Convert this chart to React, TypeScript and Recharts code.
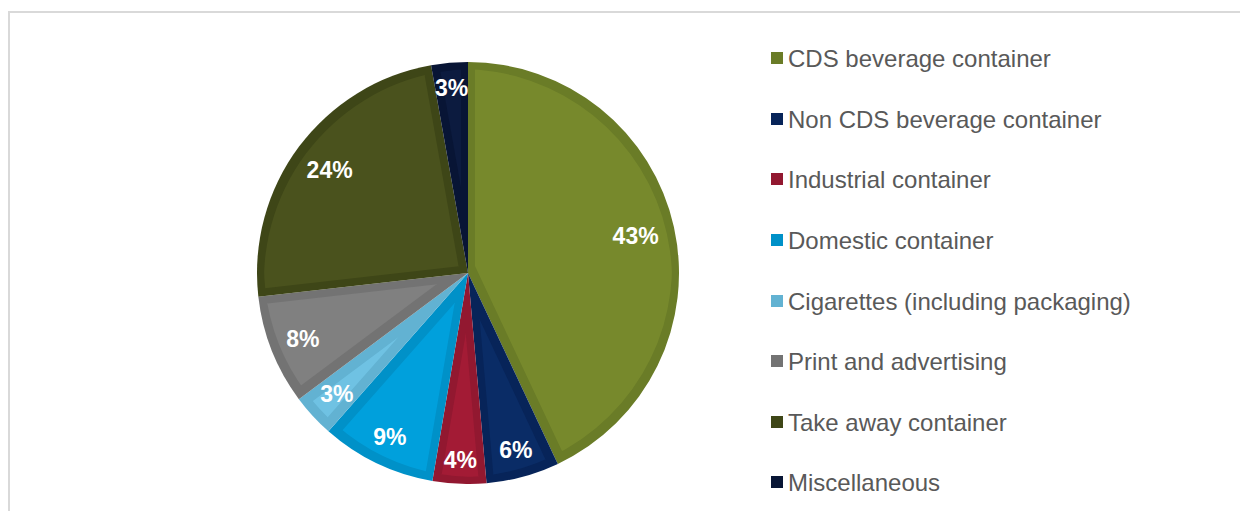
import React from 'react';
import { PieChart, Pie, Cell, Legend } from 'recharts';

const categories = [
  'CDS beverage container',
  'Non CDS beverage container',
  'Industrial container',
  'Domestic container',
  'Cigarettes (including packaging)',
  'Print and advertising',
  'Take away container',
  'Miscellaneous',
];
const shares = [43.0, 5.6, 4.1, 8.8, 3.3, 8.4, 24.0, 2.8];
const innerColors = ['#77892C', '#0A2C66', '#A31B35', '#00A0DC', '#6FC2E3', '#808080', '#4A521D', '#0C1B3F'];
const edgeColors = ['#6A7C27', '#072459', '#921830', '#0091C8', '#62B2D2', '#737373', '#3E4617', '#081535'];

const data = categories.map((name, i) => ({ name, value: shares[i] }));

const R = 211;
const RAD = Math.PI / 180;
const FONT = 'Arial, "Liberation Sans", Helvetica, sans-serif';

const renderLabel = (props: any) => {
  const { cx, cy, midAngle, percent, outerRadius } = props;
  const text = `${Math.round(percent * 100)}%`;
  const fs = 23;
  let w = 0;
  for (const ch of text) w += ch === '%' ? 0.889 * fs : 0.556 * fs;
  const hw = w / 2;
  const hh = 8;
  const ux = Math.cos(-midAngle * RAD);
  const uy = Math.sin(-midAngle * RAD);
  const D = outerRadius - 15;
  const b = Math.abs(ux) * hw + Math.abs(uy) * hh;
  const c = hw * hw + hh * hh - D * D;
  const r = -b + Math.sqrt(b * b - c);
  const x = cx + r * ux;
  const y = cy + r * uy;
  return (
    <text
      x={x}
      y={y + 8.2}
      textAnchor="middle"
      fill="#FFFFFF"
      fontFamily={FONT}
      fontWeight="bold"
      fontSize={fs}
    >
      {text}
    </text>
  );
};

const renderLegend = (props: any) => {
  const payload = [...(props.payload || [])].sort(
    (a: any, b: any) => categories.indexOf(a.value) - categories.indexOf(b.value)
  );
  return (
    <div style={{ display: 'flex', flexDirection: 'column' }}>
      {payload.map((entry: any, i: number) => (
        <div key={i} style={{ height: 60.6, display: 'flex', alignItems: 'center' }}>
          <span
            style={{
              display: 'inline-block',
              width: 12,
              height: 12,
              background: entry.color,
              marginRight: 5,
              marginTop: -2,
            }}
          />
          <span style={{ fontFamily: FONT, fontSize: 24, color: '#595959', lineHeight: 1, whiteSpace: 'nowrap' }}>
            {entry.value}
          </span>
        </div>
      ))}
    </div>
  );
};

export default function App() {
  return (
    <div
      style={{
        marginTop: 3,
        width: 1238,
        height: 498,
        borderTop: '2px solid #d9d9d9',
        borderLeft: '2px solid #d9d9d9',
        position: 'relative',
        background: '#fff',
      }}
    >
      <svg width={0} height={0} style={{ position: 'absolute' }}>
        <defs>
          {innerColors.map((col, i) => (
            <filter
              key={i}
              id={`inset-${i}`}
              x="-10%"
              y="-10%"
              width="120%"
              height="120%"
              colorInterpolationFilters="sRGB"
            >
              <feMorphology in="SourceAlpha" operator="erode" radius={7} result="inner" />
              <feFlood floodColor={col} result="flood" />
              <feComposite in="flood" in2="inner" operator="in" result="innerFill" />
              <feMerge>
                <feMergeNode in="SourceGraphic" />
                <feMergeNode in="innerFill" />
              </feMerge>
            </filter>
          ))}
        </defs>
      </svg>
      <PieChart width={1238} height={498} margin={{ top: 0, right: 0, bottom: 0, left: 0 }}>
        <Pie
          data={data}
          dataKey="value"
          nameKey="name"
          cx={458}
          cy={260}
          outerRadius={R}
          innerRadius={0}
          startAngle={90}
          endAngle={-270}
          stroke="none"
          label={renderLabel}
          labelLine={false}
          isAnimationActive={false}
        >
          {data.map((_, i) => (
            <Cell key={i} fill={edgeColors[i]} stroke="none" filter={`url(#inset-${i})`} />
          ))}
        </Pie>
        <Legend
          layout="vertical"
          align="right"
          verticalAlign="top"
          content={renderLegend}
          wrapperStyle={{ position: 'absolute', left: 761, top: 16, width: 470, right: 'auto', bottom: 'auto' }}
        />
      </PieChart>
    </div>
  );
}
